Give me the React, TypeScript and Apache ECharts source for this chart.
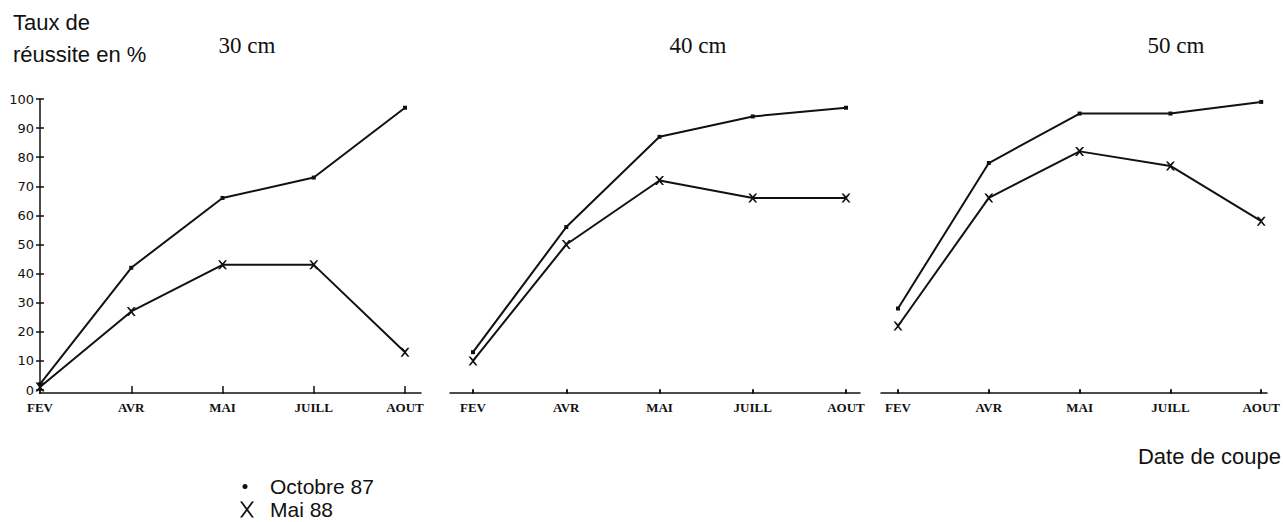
import React, { useEffect, useRef } from "react";
import * as echarts from "echarts";

// ---- data ----
const categories = ["FEV", "AVR", "MAI", "JUILL", "AOUT"];
const panelTitles = ["30 cm", "40 cm", "50 cm"];
const seriesNames = ["Octobre 87", "Mai 88"];
const octobre30 = [2, 42, 66, 73, 97];
const mai30 = [1, 27, 43, 43, 13];
const octobre40 = [13, 56, 87, 94, 97];
const mai40 = [10, 50, 72, 66, 66];
const octobre50 = [28, 78, 95, 95, 99];
const mai50 = [22, 66, 82, 77, 58];
const yMin = 0;
const yMax = 100;
const yInterval = 10;
const yAxisTitle = "Taux de\nréussite en %";
const xAxisTitle = "Date de coupe";

const panelData = [
  [octobre30, mai30],
  [octobre40, mai40],
  [octobre50, mai50],
];

// ---- layout ----
const panels = [
  { dataLeft: 40, dataWidth: 365, lineLeft: 40, lineWidth: 381, titleX: 247 },
  { dataLeft: 473, dataWidth: 373, lineLeft: 450, lineWidth: 410, titleX: 698 },
  { dataLeft: 898, dataWidth: 367, lineLeft: 881, lineWidth: 386, titleX: 1176 },
];
const TOP = 99;
const DATA_H = 291;
const LINE_H = 294;
const INK = "#111";
const SANS = "'Liberation Sans', Arial, sans-serif";
const SERIF = "'Liberation Serif', 'Times New Roman', serif";

const X_SYMBOL =
  "path://M0,0L3,0L7,4.5L11,0L14,0L8.5,7L14,14L11,14L7,9.5L3,14L0,14L5.5,7Z";
const LEGEND_DOT =
  "path://M0,0M25,16M7.5,8A2.5,2.5 0 1,1 2.5,8A2.5,2.5 0 1,1 7.5,8Z";
const LEGEND_X =
  "path://M25,16M0,0L2.2,0L7,6.6L11.8,0L14,0L8.1,8L14,16L11.8,16L7,9.4L2.2,16L0,16L5.9,8Z";

function buildOption(): any {
  const grid: any[] = [];
  const xAxis: any[] = [];
  const yAxis: any[] = [];
  const series: any[] = [];

  panels.forEach((p) => {
    grid.push({ left: p.dataLeft, top: TOP, width: p.dataWidth, height: DATA_H, containLabel: false });
  });
  panels.forEach((p) => {
    grid.push({ left: p.lineLeft, top: TOP, width: p.lineWidth, height: LINE_H, containLabel: false });
  });

  panels.forEach((_, i) => {
    xAxis.push({
      type: "category",
      gridIndex: i,
      data: categories,
      boundaryGap: false,
      position: "bottom",
      offset: 3,
      axisLine: { show: false },
      axisTick: { show: true, inside: false, length: 4, lineStyle: { color: INK, width: 1.5 } },
      axisLabel: {
        show: true,
        interval: 0,
        margin: 8,
        color: INK,
        fontFamily: SERIF,
        fontSize: 13,
        fontWeight: "bold",
      },
      splitLine: { show: false },
    });
  });
  panels.forEach((_, i) => {
    xAxis.push({
      type: "category",
      gridIndex: i,
      data: categories,
      boundaryGap: false,
      position: "bottom",
      offset: 3,
      axisLine: { show: false },
      axisTick: { show: true, inside: true, length: 4, lineStyle: { color: INK, width: 1.5 } },
      axisLabel: { show: false },
      splitLine: { show: false },
    });
  });
  panels.forEach((_, i) => {
    xAxis.push({
      type: "value",
      gridIndex: 3 + i,
      min: 0,
      max: 1,
      position: "bottom",
      axisLine: { show: true, lineStyle: { color: INK, width: 1.5 } },
      axisTick: { show: false },
      axisLabel: { show: false },
      splitLine: { show: false },
    });
  });

  yAxis.push({
    type: "value",
    gridIndex: 0,
    min: yMin,
    max: yMax,
    interval: yInterval,
    position: "left",
    axisLine: { show: false },
    axisTick: { show: true, inside: false, length: 4, lineStyle: { color: INK, width: 1.5 } },
    axisLabel: { show: true, margin: 6, color: INK, fontFamily: "'DejaVu Sans', sans-serif", fontSize: 13 },
    splitLine: { show: false },
  });
  yAxis.push({
    type: "value",
    gridIndex: 0,
    min: yMin,
    max: yMax,
    interval: yInterval,
    position: "left",
    axisLine: { show: false },
    axisTick: { show: true, inside: true, length: 4, lineStyle: { color: INK, width: 1.5 } },
    axisLabel: { show: false },
    splitLine: { show: false },
  });
  [1, 2].forEach((g) => {
    yAxis.push({
      type: "value",
      gridIndex: g,
      min: yMin,
      max: yMax,
      interval: yInterval,
      show: false,
      splitLine: { show: false },
    });
  });
  [0, 1, 2].forEach((i) => {
    yAxis.push({
      type: "value",
      gridIndex: 3 + i,
      min: 0,
      max: 1,
      show: i === 0,
      position: "left",
      axisLine: { show: i === 0, lineStyle: { color: INK, width: 1.5 } },
      axisTick: { show: false },
      axisLabel: { show: false },
      splitLine: { show: false },
    });
  });

  const yIdx = [0, 2, 3];
  panelData.forEach((pair, i) => {
    series.push({
      name: seriesNames[0],
      type: "line",
      xAxisIndex: i,
      yAxisIndex: yIdx[i],
      data: pair[0],
      symbol: "rect",
      symbolSize: 4,
      showAllSymbol: true,
      lineStyle: { color: INK, width: 2 },
      itemStyle: { color: INK },
      z: 3,
    });
    series.push({
      name: seriesNames[1],
      type: "line",
      xAxisIndex: i,
      yAxisIndex: yIdx[i],
      data: pair[1],
      symbol: X_SYMBOL,
      symbolSize: 9,
      showAllSymbol: true,
      lineStyle: { color: INK, width: 2 },
      itemStyle: { color: INK },
      z: 4,
    });
  });

  const textStyle = (font: string, align: string, vAlign: string) => ({
    font,
    fill: INK,
    align,
    textAlign: align,
    verticalAlign: vAlign,
    textVerticalAlign: vAlign,
  });

  const graphic: any[] = [];
  const yLines = yAxisTitle.split("\n");
  graphic.push({
    type: "text",
    x: 13,
    y: 22,
    style: { text: yLines[0], ...textStyle(`22px ${SANS}`, "left", "middle") },
  });
  graphic.push({
    type: "text",
    x: 13,
    y: 54,
    style: { text: yLines[1], ...textStyle(`22px ${SANS}`, "left", "middle") },
  });
  panels.forEach((p, i) => {
    graphic.push({
      type: "text",
      x: p.titleX,
      y: 45,
      style: { text: panelTitles[i], ...textStyle(`23px ${SERIF}`, "center", "middle") },
    });
  });
  graphic.push({
    type: "text",
    x: 1281,
    y: 456,
    style: { text: xAxisTitle, ...textStyle(`22px ${SANS}`, "right", "middle") },
  });

  const legendBase = {
    show: true,
    orient: "vertical",
    left: 240,
    itemWidth: 25,
    itemHeight: 16,
    itemGap: 0,
    padding: 0,
    selectedMode: false,
    textStyle: { color: INK, fontFamily: SANS, fontSize: 21, lineHeight: 21 },
  };

  return {
    animation: false,
    backgroundColor: "#ffffff",
    grid,
    xAxis,
    yAxis,
    series,
    graphic,
    legend: [
      { ...legendBase, top: 476, data: [{ name: seriesNames[0], icon: LEGEND_DOT }] },
      { ...legendBase, top: 499, data: [{ name: seriesNames[1], icon: LEGEND_X }] },
    ],
  };
}

export default function App() {
  const ref = useRef<HTMLDivElement>(null);
  useEffect(() => {
    if (!ref.current) return;
    const chart = echarts.init(ref.current, undefined, { renderer: "svg" });
    chart.setOption(buildOption());
    return () => {
      chart.dispose();
    };
  }, []);
  return (
    <div
      ref={ref}
      style={{ position: "fixed", left: 0, top: 0, width: 1283, height: 522, background: "#fff" }}
    />
  );
}
